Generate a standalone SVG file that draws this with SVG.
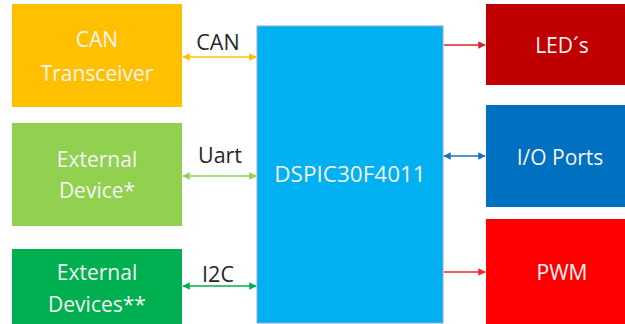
<svg xmlns="http://www.w3.org/2000/svg" width="625" height="324" viewBox="0 0 625 324">
<style>
.bt{font-family:"Open Sans","Noto Sans","Liberation Sans",sans-serif;font-size:21px;fill:#F4F4F4;text-anchor:middle}
.big{font-size:22.5px}
.lb{font-family:"Open Sans","Noto Sans","Liberation Sans",sans-serif;font-size:21.5px;fill:#262626;text-anchor:middle}
.c{stroke-width:1.5;fill:none}
</style>
<defs>
<marker id="ay" viewBox="0 0 10 10" refX="9" refY="5" markerWidth="5" markerHeight="5" orient="auto-start-reverse"><path d="M0,0L10,5L0,10z" fill="#FFC000"/></marker>
<marker id="ag" viewBox="0 0 10 10" refX="9" refY="5" markerWidth="5" markerHeight="5" orient="auto-start-reverse"><path d="M0,0L10,5L0,10z" fill="#92D050"/></marker>
<marker id="adg" viewBox="0 0 10 10" refX="9" refY="5" markerWidth="5" markerHeight="5" orient="auto-start-reverse"><path d="M0,0L10,5L0,10z" fill="#00B050"/></marker>
<marker id="ar" viewBox="0 0 10 10" refX="9" refY="5" markerWidth="5" markerHeight="5" orient="auto-start-reverse"><path d="M0,0L10,5L0,10z" fill="#E0202A"/></marker>
<marker id="ab" viewBox="0 0 10 10" refX="9" refY="5" markerWidth="5" markerHeight="5" orient="auto-start-reverse"><path d="M0,0L10,5L0,10z" fill="#1F6FC0"/></marker>
<marker id="arr" viewBox="0 0 10 10" refX="9" refY="5" markerWidth="5" markerHeight="5" orient="auto-start-reverse"><path d="M0,0L10,5L0,10z" fill="#FF2020"/></marker>
</defs>
<g id="can">
<rect x="12" y="4" width="170" height="103" fill="#FFC000"/>
<text class="bt" x="97" y="47">CAN</text>
<text class="bt" x="97" y="81">Transceiver</text>
</g>
<g id="ext1">
<rect x="12" y="123" width="170" height="103" fill="#92D050"/>
<text class="bt" x="97" y="167">External</text>
<text class="bt" x="97" y="198">Device*</text>
</g>
<g id="ext2">
<rect x="12" y="249" width="170" height="80" fill="#00B050"/>
<text class="bt" x="97" y="280">External</text>
<text class="bt" x="97" y="312">Devices**</text>
</g>
<g id="dspic">
<rect x="257" y="26" width="186" height="297" fill="#00B0F0" stroke="#8FAACC" stroke-width="1"/>
<text class="bt big" x="350" y="182">DSPIC30F4011</text>
</g>
<g id="leds">
<rect x="486" y="4" width="145" height="81" fill="#C00000"/>
<text class="bt" x="562" y="53">LED´s</text>
</g>
<g id="io">
<rect x="486" y="105" width="145" height="102" fill="#0070C0"/>
<text class="bt" x="560" y="165">I/O Ports</text>
</g>
<g id="pwm">
<rect x="486" y="219" width="145" height="110" fill="#FF0000"/>
<text class="bt" x="562" y="280">PWM</text>
</g>
<g id="connectors">
<line class="c" x1="183" y1="57" x2="256" y2="57" stroke="#FFC000" marker-start="url(#ay)" marker-end="url(#ay)"/>
<line class="c" x1="183" y1="176" x2="256" y2="176" stroke="#92D050" marker-start="url(#ag)" marker-end="url(#ag)"/>
<line class="c" x1="183" y1="286" x2="256" y2="286" stroke="#00B050" marker-start="url(#adg)" marker-end="url(#adg)"/>
<line class="c" x1="444" y1="45" x2="485" y2="45" stroke="#E0202A" marker-end="url(#ar)"/>
<line class="c" x1="444" y1="156" x2="485" y2="156" stroke="#1F6FC0" marker-start="url(#ab)" marker-end="url(#ab)"/>
<line class="c" x1="444" y1="272" x2="485" y2="272" stroke="#FF2020" marker-end="url(#arr)"/>
<text class="lb" x="218" y="50">CAN</text>
<text class="lb" x="220" y="163">Uart</text>
<text class="lb" x="218" y="282">I2C</text>
</g>
</svg>
